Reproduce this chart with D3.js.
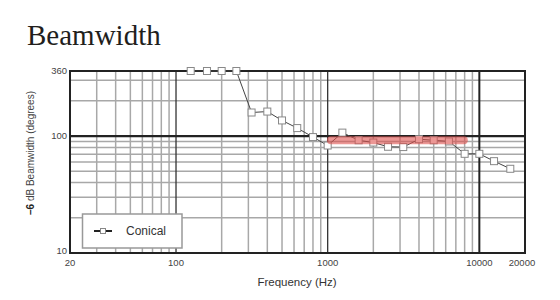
<!DOCTYPE html>
<html>
<head>
<meta charset="utf-8">
<script src="https://cdn.jsdelivr.net/npm/d3@7"></script>
<style>
  body { margin: 0; background: #fff; }
  svg { display: block; font-family: Arial, "Liberation Sans", sans-serif; }
</style>
</head>
<body>
<div id="chart"></div>
<script>
// Conical horn, -6 dB beamwidth per 1/3 octave
const freqs = [125, 160, 200, 250, 315, 400, 500, 630, 800, 1000, 1250, 1600, 2000,
  2500, 3150, 4000, 5000, 6300, 8000, 10000, 12500, 16000];
const conical = [360, 360, 360, 360, 159, 162, 136, 117, 98, 83, 107, 92, 88,
  81, 80.5, 94, 92, 90, 70.5, 70.5, 61, 52.5];
// nominal coverage band
const bandFreqs = [1050, 7900];
const bandValue = 92;

const xTickLabels = [20, 100, 1000, 10000, 20000];
const yTickLabels = [10, 100, 360];
const xGrid = [30, 40, 50, 60, 70, 80, 90, 200, 300, 400, 500, 600, 700, 800, 900,
  2000, 3000, 4000, 5000, 6000, 7000, 8000, 9000];
const xDark = [100, 1000];
const yGrid = [20, 30, 40, 50, 60, 70, 80, 90, 200, 300];

const W = 560, H = 300;
const m = { left: 70, right: 35, top: 71, bottom: 47 };

const svg = d3.select("#chart").append("svg").attr("width", W).attr("height", H);

const x = d3.scaleLog().domain([20, 20000]).range([m.left, W - m.right]);
const y = d3.scaleLog().domain([10, 360]).range([H - m.bottom, m.top]);

svg.append("text")
  .attr("x", 27).attr("y", 45)
  .attr("font-family", "'Liberation Serif', 'DejaVu Serif', serif")
  .attr("font-size", 29)
  .attr("fill", "#221e1c")
  .text("Beamwidth");

const grid = svg.append("g");
grid.selectAll(".vx").data(xGrid).join("line")
  .attr("x1", d => x(d)).attr("x2", d => x(d))
  .attr("y1", y(10)).attr("y2", y(360))
  .attr("stroke", "#a8a8a8").attr("stroke-width", 1.5);
grid.selectAll(".hy").data(yGrid).join("line")
  .attr("y1", d => y(d)).attr("y2", d => y(d))
  .attr("x1", x(20)).attr("x2", x(20000))
  .attr("stroke", "#a8a8a8").attr("stroke-width", 1.5);
grid.selectAll(".vd").data(xDark).join("line")
  .attr("x1", d => x(d)).attr("x2", d => x(d))
  .attr("y1", y(10)).attr("y2", y(360))
  .attr("stroke", "#333").attr("stroke-width", 1.3);
grid.append("line")
  .attr("x1", x(10000)).attr("x2", x(10000))
  .attr("y1", y(10)).attr("y2", y(360))
  .attr("stroke", "#222").attr("stroke-width", 2);
grid.append("line")
  .attr("x1", x(20)).attr("x2", x(20000))
  .attr("y1", y(100)).attr("y2", y(100))
  .attr("stroke", "#222").attr("stroke-width", 2.2);
grid.append("rect")
  .attr("x", x(20)).attr("y", y(360))
  .attr("width", x(20000) - x(20)).attr("height", y(10) - y(360))
  .attr("fill", "none").attr("stroke", "#222").attr("stroke-width", 2);

// tick labels
svg.append("g").selectAll("text").data(xTickLabels).join("text")
  .attr("x", d => d === 20000 ? x(d) - 3 : x(d))
  .attr("y", H - m.bottom + 13)
  .attr("text-anchor", "middle")
  .attr("font-size", 9.5).attr("fill", "#444")
  .text(d => d);
svg.append("g").selectAll("text").data(yTickLabels).join("text")
  .attr("x", m.left - 3)
  .attr("y", d => d === 10 ? y(d) + 1 : y(d) + 3)
  .attr("text-anchor", "end")
  .attr("font-size", 9.5).attr("fill", "#444")
  .text(d => d);

svg.append("text")
  .attr("x", 297).attr("y", 286)
  .attr("text-anchor", "middle")
  .attr("font-size", 11.5).attr("fill", "#333")
  .text("Frequency (Hz)");

const yl = svg.append("text")
  .attr("transform", `translate(34,153) rotate(-90)`)
  .attr("text-anchor", "middle")
  .attr("font-size", 10).attr("fill", "#444");
yl.append("tspan").attr("font-weight", "bold").attr("fill", "#222").text("\u20136");
yl.append("tspan").text(" dB Beamwidth (degrees)");

const pts = freqs.map((f, i) => [f, conical[i]]);
svg.append("path")
  .datum(pts)
  .attr("d", d3.line().x(d => x(d[0])).y(d => y(d[1])))
  .attr("fill", "none").attr("stroke", "#444").attr("stroke-width", 1);
svg.append("g").selectAll("rect").data(pts).join("rect")
  .attr("x", d => x(d[0]) - 3.5).attr("y", d => y(d[1]) - 3.5)
  .attr("width", 7).attr("height", 7)
  .attr("fill", "#fff")
  .attr("stroke", "#888").attr("stroke-width", 1);

// red band, drawn over the markers
svg.append("line")
  .attr("x1", x(bandFreqs[0])).attr("x2", x(bandFreqs[1]))
  .attr("y1", y(bandValue)).attr("y2", y(bandValue))
  .attr("stroke", "#e0524f").attr("stroke-opacity", 0.6)
  .attr("stroke-width", 8).attr("stroke-linecap", "round");

// legend
const lg = svg.append("g");
lg.append("rect")
  .attr("x", 82.5).attr("y", 214).attr("width", 99.5).attr("height", 34)
  .attr("fill", "#fff").attr("stroke", "#999").attr("stroke-width", 1.5);
lg.append("line")
  .attr("x1", 94).attr("x2", 112).attr("y1", 231).attr("y2", 231)
  .attr("stroke", "#222").attr("stroke-width", 2);
lg.append("rect")
  .attr("x", 100.5).attr("y", 228.5).attr("width", 5).attr("height", 5)
  .attr("fill", "#fff").attr("stroke", "#888");
lg.append("text")
  .attr("x", 126).attr("y", 235)
  .attr("font-size", 12).attr("fill", "#333")
  .text("Conical");
</script>
</body>
</html>
